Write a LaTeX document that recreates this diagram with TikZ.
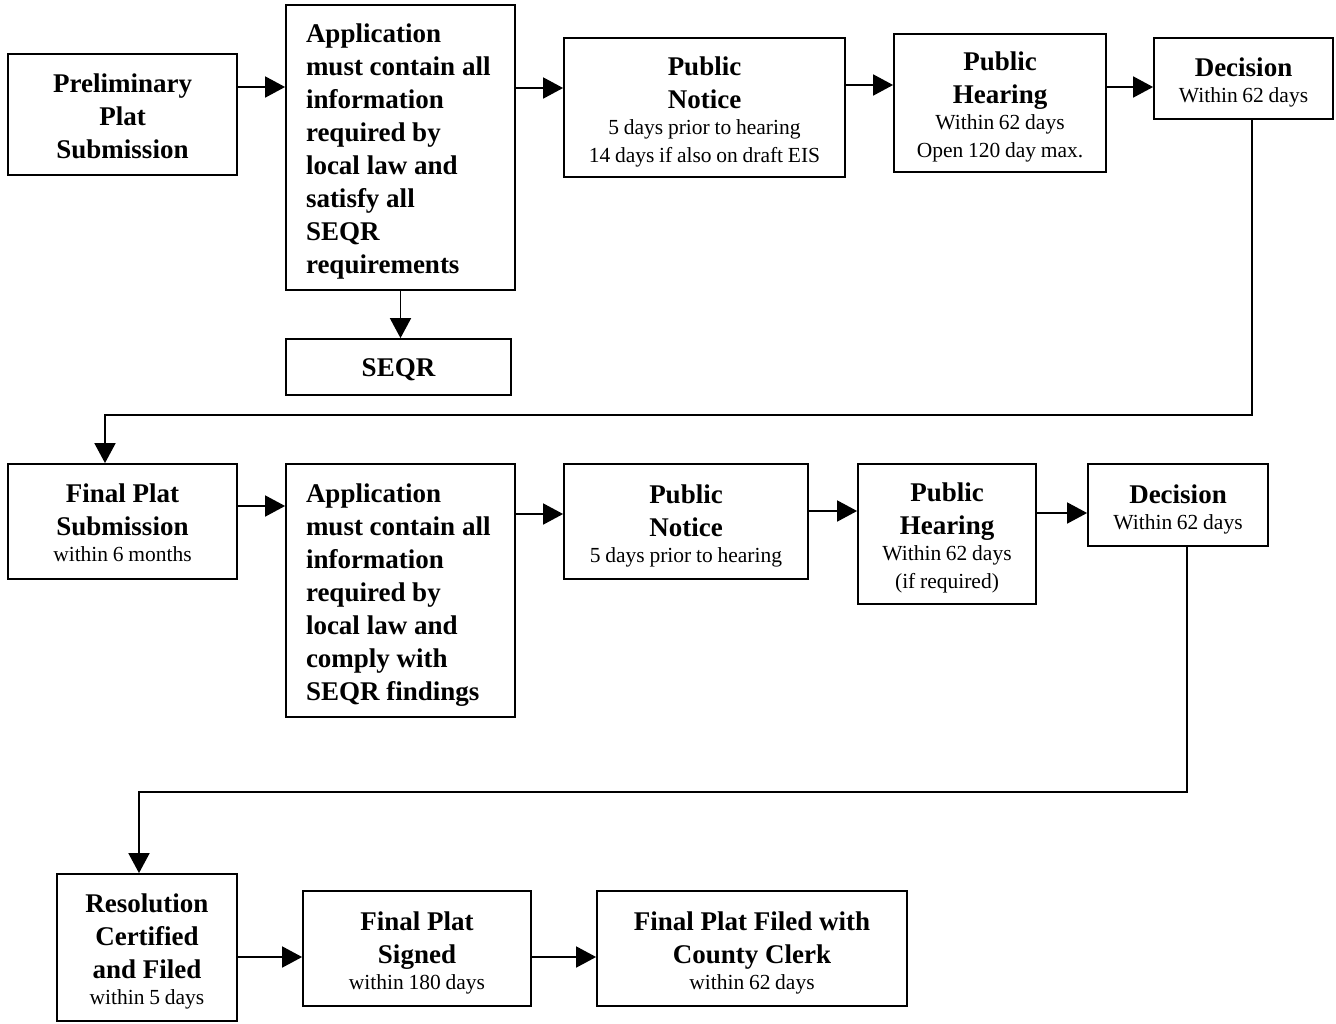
\documentclass[tikz,border=0pt]{standalone}
\usepackage{fontspec}
\setmainfont{Liberation Serif}
\usetikzlibrary{arrows.meta}
\newcommand\boldtx{\fontsize{27}{33}\selectfont\bfseries\spaceskip=0.25em\relax}
\newcommand\regtx{\vskip-2pt\fontsize{21.5}{28}\selectfont\mdseries\spaceskip=0.22em\relax}
\newcommand\tgap[1][27]{\rule{0pt}{#1pt}\ignorespaces}
\begin{document}
\begin{tikzpicture}[x=1pt,y=-1pt,
  box/.style={draw, line width=1.8pt, inner sep=0pt, align=center},
  appbox/.style={box, align=left},
  arr/.style={line width=1.8pt, -{Triangle[length=20pt,width=21pt]}}]
\useasboundingbox (0,0) rectangle (1336,1023);

% row 1
\node[box, minimum width=229, text width=229, minimum height=121] (pps) at (122.5,114.5)
  {{\boldtx\tgap[22]Preliminary\\Plat\\Submission\par}};
\node[appbox, minimum width=229, text width=229, minimum height=285] (app1) at (400.5,147.5)
  {{\leftskip=20pt\boldtx\tgap Application\\must contain all\\information\\required by\\local law and\\satisfy all\\SEQR\\requirements\par}};
\node[box, minimum width=225, text width=225, minimum height=56] (seqr) at (398.5,367)
  {{\boldtx\tgap[23]SEQR\par}};
\node[box, minimum width=281, text width=281, minimum height=139] (pn1) at (704.5,107.5)
  {{\boldtx\tgap Public\\Notice\par}{\regtx 5 days prior to hearing\\14 days if also on draft EIS\par}};
\node[box, minimum width=212, text width=212, minimum height=138] (ph1) at (1000,103)
  {{\boldtx\tgap Public\\Hearing\par}{\regtx Within 62 days\\Open 120 day max.\par}};
\node[box, minimum width=179, text width=179, minimum height=81] (dec1) at (1243.5,78.5)
  {{\boldtx\tgap Decision\par}{\regtx Within 62 days\par}};

% row 2
\node[box, minimum width=229, text width=229, minimum height=115] (fps) at (122.5,521.5)
  {{\boldtx\tgap[22]Final Plat\\Submission\par}{\regtx within 6 months\par}};
\node[appbox, minimum width=229, text width=229, minimum height=253] (app2) at (400.5,590.5)
  {{\leftskip=20pt\boldtx\tgap Application\\must contain all\\information\\required by\\local law and\\comply with\\SEQR findings\par}};
\node[box, minimum width=244, text width=244, minimum height=115] (pn2) at (686,521.5)
  {{\boldtx\tgap Public\\Notice\par}{\regtx 5 days prior to hearing\par}};
\node[box, minimum width=178, text width=178, minimum height=140] (ph2) at (947,534)
  {{\boldtx\tgap Public\\Hearing\par}{\regtx Within 62 days\\(if required)\par}};
\node[box, minimum width=180, text width=180, minimum height=82] (dec2) at (1178,505)
  {{\boldtx\tgap Decision\par}{\regtx Within 62 days\par}};

% row 3
\node[box, minimum width=180, text width=180, minimum height=147] (res) at (147,947.5)
  {{\boldtx\tgap Resolution\\Certified\\and Filed\par}{\regtx within 5 days\par}};
\node[box, minimum width=228, text width=228, minimum height=115] (fps2) at (417,948.5)
  {{\boldtx\tgap Final Plat\\Signed\par}{\regtx within 180 days\par}};
\node[box, minimum width=310, text width=310, minimum height=115] (filed) at (752,948.5)
  {{\boldtx\tgap Final Plat Filed with\\County Clerk\par}{\regtx within 62 days\par}};

% connectors row 1
\draw[arr] (pps.east |- 0,87) -- (app1.west |- 0,87);
\draw[arr] (app1.east |- 0,88) -- (pn1.west |- 0,88);
\draw[arr] (pn1.east |- 0,85) -- (ph1.west |- 0,85);
\draw[arr] (ph1.east |- 0,87) -- (dec1.west |- 0,87);
\draw[arr] (app1.south) -- (app1.south |- seqr.north);
\draw[arr] (dec1.south -| 1252,0) -- (1252,415) -- (105,415) -- (fps.north -| 105,0);

% connectors row 2
\draw[arr] (fps.east |- 0,506) -- (app2.west |- 0,506);
\draw[arr] (app2.east |- 0,514) -- (pn2.west |- 0,514);
\draw[arr] (pn2.east |- 0,511) -- (ph2.west |- 0,511);
\draw[arr] (ph2.east |- 0,513) -- (dec2.west |- 0,513);
\draw[arr] (dec2.south -| 1187,0) -- (1187,792) -- (139,792) -- (res.north -| 139,0);

% connectors row 3
\draw[arr] (res.east |- 0,957) -- (fps2.west |- 0,957);
\draw[arr] (fps2.east |- 0,957) -- (filed.west |- 0,957);
\end{tikzpicture}
\end{document}
